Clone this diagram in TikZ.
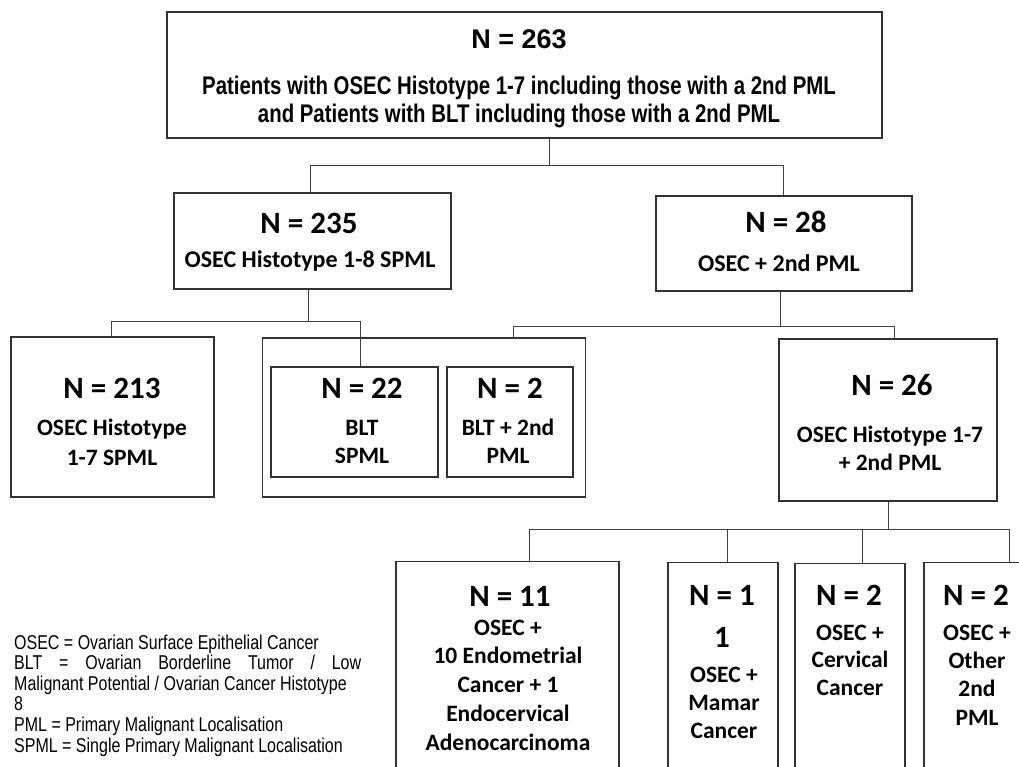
\documentclass[tikz,border=0pt]{standalone}
\usepackage{fontspec}
\setmainfont{Carlito}
\newfontfamily\narrowfont[FakeStretch=0.8]{Liberation Sans}
\newfontfamily\headfont{Liberation Sans}
\begin{document}
\begin{tikzpicture}[x=1pt,y=-1pt,
  box/.style={draw=black!80, line width=1.1pt, rectangle, inner sep=0pt},
  conn/.style={draw=black!75, line width=0.9pt},
  big/.style={font=\bfseries\fontsize{31}{45}\selectfont, inner sep=0pt, anchor=base},
  sub/.style={font=\bfseries\fontsize{24}{29}\selectfont, inner sep=0pt, anchor=base},
  ln/.style={font=\bfseries\fontsize{23.5}{29}\selectfont, inner sep=0pt, align=center, anchor=base},
]
\useasboundingbox (0,0) rectangle (1019,767);
\clip (0,0) rectangle (1019,767);
\fill[white] (0,0) rectangle (1019,767);

% Level 1 (multi-line nodes: base = baseline of last line)
\node[box, minimum width=715pt, minimum height=126pt] (b263) at (524.5,75) {};
\node[font=\headfont\bfseries\fontsize{27}{30}\selectfont, inner sep=0pt, anchor=base] (t263) at (519,48.5) {N = 263};
\node[font=\narrowfont\bfseries\fontsize{25.5}{28}\selectfont, inner sep=0pt, align=center, anchor=base] (d263) at (519,123)
  {Patients with OSEC Histotype 1-7 including those with a 2nd PML\\and Patients with BLT including those with a 2nd PML};

% Level 2
\node[box, minimum width=277pt, minimum height=96pt] (b235) at (312.5,241) {};
\node[big] (t235) at (309,234) {N = 235};
\node[sub] (d235) at (310,267) {OSEC Histotype 1-8 SPML};

\node[box, minimum width=256pt, minimum height=95pt] (b28) at (784,243.5) {};
\node[big] (t28) at (786,233) {N = 28};
\node[sub] (d28) at (779,272) {OSEC + 2nd PML};

% Level 3
\node[box, minimum width=203pt, minimum height=160pt] (b213) at (112.5,417) {};
\node[big] (t213) at (112,398) {N = 213};
\node[ln, font=\bfseries\fontsize{23.5}{30}\selectfont] (d213) at (112,465) {OSEC Histotype\\1-7 SPML};

\node[box, minimum width=323pt, minimum height=159pt] (bout) at (424,417.5) {};
\node[box, minimum width=167pt, minimum height=110pt] (b22) at (354.5,422) {};
\node[big] (t22) at (362,398) {N = 22};
\node[ln, font=\bfseries\fontsize{23.5}{28}\selectfont] (d22) at (362,463) {BLT\\SPML};
\node[box, minimum width=126pt, minimum height=110pt] (b2a) at (510,422) {};
\node[big] (t2a) at (510,398) {N = 2};
\node[ln, font=\bfseries\fontsize{23.5}{28}\selectfont] (d2a) at (508,463) {BLT + 2nd\\PML};

\node[box, minimum width=218pt, minimum height=162pt] (b26) at (888,420) {};
\node[big] (t26) at (892,395) {N = 26};
\node[ln, font=\bfseries\fontsize{23.5}{28}\selectfont] (d26) at (890,470) {OSEC Histotype 1-7\\+ 2nd PML};

% Level 4
\node[box, minimum width=223pt, minimum height=260pt, anchor=north] (b11) at (507.5,561) {};
\node[big] (t11) at (510,606) {N = 11};
\node[ln, font=\bfseries\fontsize{23.5}{28.75}\selectfont] (d11) at (508,750) {OSEC +\\10 Endometrial\\Cancer + 1\\Endocervical\\Adenocarcinoma};

\node[box, minimum width=110pt, minimum height=260pt, anchor=north] (b1) at (723,562) {};
\node[big, align=center, font=\bfseries\fontsize{31}{42}\selectfont] (t1) at (722,647) {N = 1\\1};
\node[ln, font=\bfseries\fontsize{23.5}{28}\selectfont] (d1) at (724,738) {OSEC +\\Mamar\\Cancer};

\node[box, minimum width=110pt, minimum height=260pt, anchor=north] (b2b) at (850,563) {};
\node[big] (t2b) at (849,605) {N = 2};
\node[ln, font=\bfseries\fontsize{23.5}{27.5}\selectfont] (d2b) at (850,695) {OSEC +\\Cervical\\Cancer};

\node[box, minimum width=110pt, minimum height=260pt, anchor=north] (b2c) at (979,562) {};
\node[big] (t2c) at (976,605) {N = 2};
\node[ln, font=\bfseries\fontsize{23.5}{28.33}\selectfont] (d2c) at (977,725) {OSEC +\\Other\\2nd\\PML};

% Connectors
\coordinate (v1) at (549,165);
\coordinate (h1l) at (310,165);
\coordinate (h1r) at (783,165);
\draw[conn] (v1 |- b263.south) -- (v1);
\draw[conn] (h1l) -- (h1r);
\draw[conn] (h1l) -- (h1l |- b235.north);
\draw[conn] (h1r) -- (h1r |- b28.north);

\coordinate (v2) at (308,321);
\coordinate (h2l) at (111,321);
\coordinate (h2r) at (360,321);
\draw[conn] (v2 |- b235.south) -- (v2);
\draw[conn] (h2l) -- (h2r);
\draw[conn] (h2l) -- (h2l |- b213.north);
\draw[conn] (h2r) -- (h2r |- b22.north);

\coordinate (v3) at (780,326);
\coordinate (h3l) at (513,326);
\coordinate (h3r) at (894,326);
\draw[conn] (v3 |- b28.south) -- (v3);
\draw[conn] (h3l) -- (h3r);
\draw[conn] (h3l) -- (h3l |- bout.north);
\draw[conn] (h3r) -- (h3r |- b26.north);

\coordinate (v4) at (888,529);
\coordinate (h4a) at (529,529);
\coordinate (h4b) at (727,529);
\coordinate (h4c) at (862,529);
\coordinate (h4d) at (1009,529);
\draw[conn] (v4 |- b26.south) -- (v4);
\draw[conn] (h4a) -- (h4d);
\draw[conn] (h4a) -- (h4a |- b11.north);
\draw[conn] (h4b) -- (h4b |- b1.north);
\draw[conn] (h4c) -- (h4c |- b2b.north);
\draw[conn] (h4d) -- (h4d |- b2c.north);

% Legend
\node[font=\narrowfont\fontsize{20}{20.6}\selectfont, inner sep=0pt, anchor=base west, align=left] (legend) at (14,752) {%
OSEC = Ovarian Surface Epithelial Cancer\\
\makebox[347pt][s]{BLT = Ovarian Borderline Tumor / Low}\\
Malignant Potential / Ovarian Cancer Histotype\\
8\\
PML = Primary Malignant Localisation\\
SPML = Single Primary Malignant Localisation};
\end{tikzpicture}
\end{document}
